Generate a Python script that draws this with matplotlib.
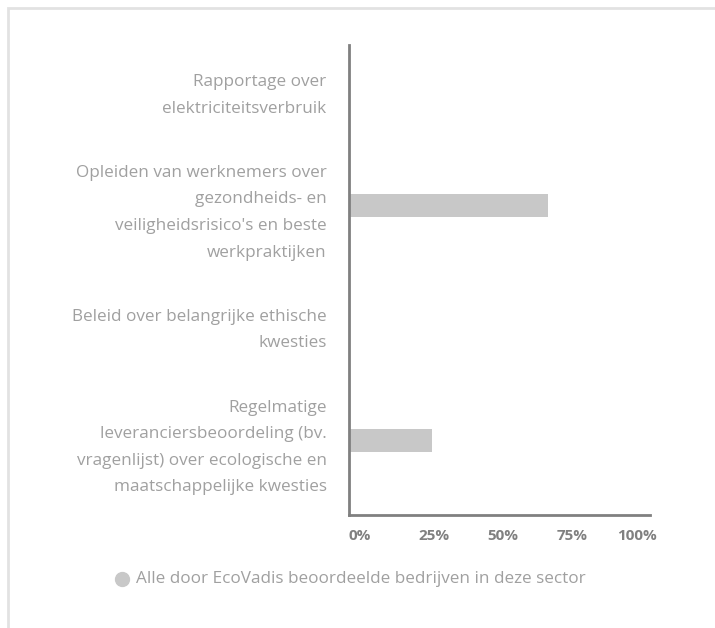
import matplotlib
matplotlib.use("Agg")
import matplotlib.pyplot as plt
from matplotlib.patches import Rectangle
from matplotlib.lines import Line2D
from matplotlib.transforms import ScaledTranslation

categories = [
    "Rapportage over\nelektriciteitsverbruik",
    "Opleiden van werknemers over\ngezondheids- en\nveiligheidsrisico's en beste\nwerkpraktijken",
    "Beleid over belangrijke ethische\nkwesties",
    "Regelmatige\nleveranciersbeoordeling (bv.\nvragenlijst) over ecologische en\nmaatschappelijke kwesties",
]
sector_pct = [0, 72, 0, 30]
xticks = [0, 25, 50, 75, 100]
xtick_labels = ["0%", "25%", "50%", "75%", "100%"]
legend_label = "Alle door EcoVadis beoordeelde bedrijven in deze sector"

plt.rcParams["font.family"] = ["Open Sans", "DejaVu Sans"]

fig = plt.figure(figsize=(7.15, 6.28), dpi=100)
ax = fig.add_axes([0.488, 0.180, 0.421, 0.748])

y = list(range(len(categories)))
ax.barh(y, sector_pct, height=0.196, color="#c8c8c8")
ax.set_ylim(3.638, -0.366)
ax.set_xlim(0, 108.7)

ax.set_yticks(y)
ax.set_yticklabels(categories, fontsize=12.3, color="#a0a0a0", linespacing=1.88)
ax.tick_params(axis="y", length=0, pad=16)
ax.set_xticks(xticks)
ax.set_xticklabels(xtick_labels, fontsize=11, fontweight="bold", color="#808080", ha="left")
ax.tick_params(axis="x", length=0, pad=10)
# last label is pulled back a bit, as in the original
last = ax.get_xticklabels()[-1]
last.set_transform(last.get_transform() + ScaledTranslation(-9 / 100, 0, fig.dpi_scale_trans))

for s in ["top", "right"]:
    ax.spines[s].set_visible(False)
for s in ["left", "bottom"]:
    ax.spines[s].set_color("#808080")
    ax.spines[s].set_linewidth(2)

# legend
fig.add_artist(Line2D([122 / 715], [1 - 579 / 628], marker="o", markersize=10,
                      color="#c8c8c8", linestyle="none", transform=fig.transFigure))
fig.text(136 / 715, 1 - 579 / 628, legend_label, fontsize=12.3, color="#a0a0a0",
         va="center", ha="left")

# outer frame (only top/left visible)
fig.add_artist(Rectangle((7.5 / 715, -0.1), 1.2, 1.1 - 7.5 / 628,
                         transform=fig.transFigure, fill=False,
                         edgecolor="#e2e2e2", linewidth=2))

fig.savefig("out.png", dpi=100)
